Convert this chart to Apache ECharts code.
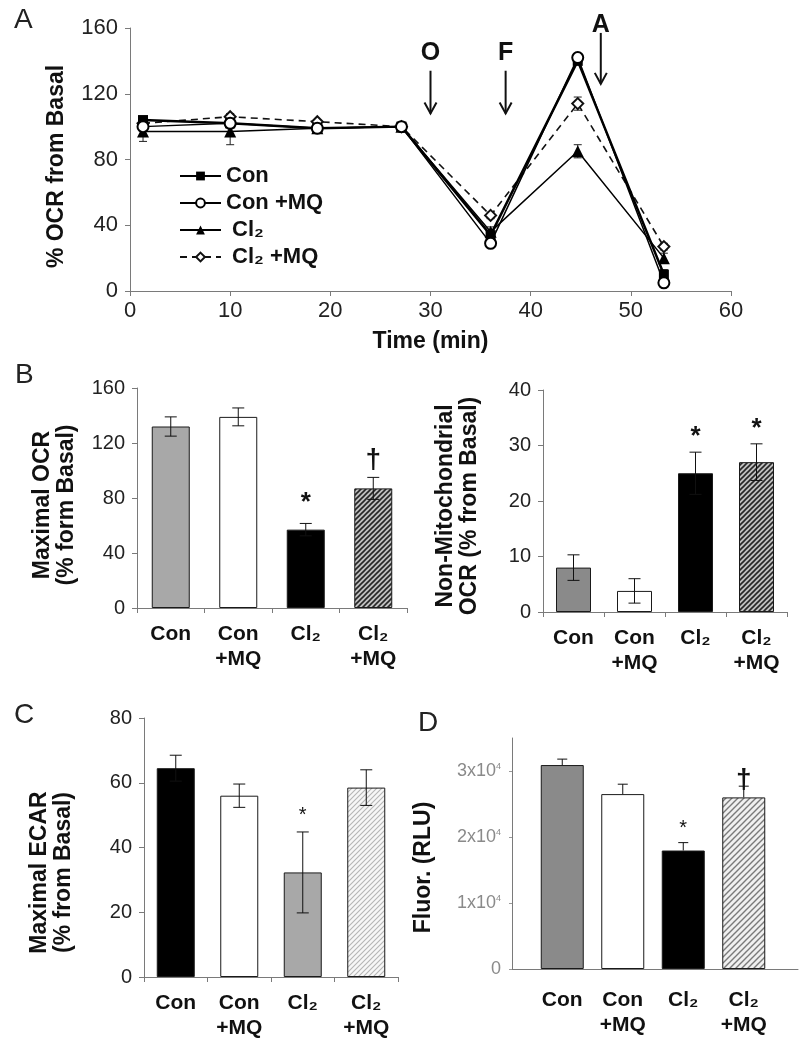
<!DOCTYPE html>
<html><head><meta charset="utf-8">
<script src="https://cdn.jsdelivr.net/npm/echarts@6/dist/echarts.min.js"></script>
<style>html,body{margin:0;padding:0;background:#fff}#c{width:801px;height:1050px}</style>
</head><body><div id="c"></div>
<script>
// ---------- Panel A: % OCR from basal over time ----------
const timeMin = [1.3, 10, 18.7, 27.1, 36, 44.7, 53.3];
const ocrCon      = [104, 102, 99, 100, 34, 140, 10];
const ocrConErr   = [2, 2, 1, 0, 2, 2, 3];
const ocrConMQ    = [100, 102, 99, 100, 29, 142, 5];
const ocrConMQErr = [2, 2, 1, 0, 2, 2, 1];
const ocrCl2      = [97, 97, 99, 100, 36, 85, 20];
const ocrCl2Err   = [6, 8, 1, 0, 3, 4, 3];
const ocrCl2MQ    = [102, 106, 103, 100, 46, 114, 27];
const ocrCl2MQErr = [2, 2, 1, 0, 2, 4, 2];
const seriesNames = ['Con', 'Con +MQ', ' Cl₂', ' Cl₂ +MQ'];
const arrowTimes  = [30, 37.5, 47];
const arrowLabels = ['O', 'F', 'A'];
const arrowFrom   = [134, 134, 157];
const arrowTo     = [108, 108, 126];
const arrowLabelAt = [145, 145, 162];

// ---------- Bar panels ----------
const groups = ['Con', 'Con\n+MQ', 'Cl₂', 'Cl₂\n+MQ'];
const maxOCR      = [132, 139, 57, 87];
const maxOCRErr   = [7, 6.5, 4.5, 8];
const maxOCRSig   = ['', '', '*', '†'];
const nonMito     = [8, 3.8, 25, 27];
const nonMitoErr  = [2.3, 2.2, 3.8, 3.3];
const nonMitoSig  = ['', '', '*', '*'];
const maxECAR     = [64.5, 56, 32.3, 58.5];
const maxECARErr  = [4, 3.6, 12.5, 5.5];
const maxECARSig  = ['', '', '*', ''];
const fluor       = [30900, 26500, 17950, 26000];
const fluorErr    = [900, 1500, 1200, 1700];
const fluorSig    = ['', '', '*', '†'];

const FONT = "'Liberation Sans', Arial, Helvetica, sans-serif";
const AX = '#7a7a7a';

function hatch(bg, fg, size, lw) {
  const c = document.createElement('canvas');
  c.width = size; c.height = size;
  const g = c.getContext('2d');
  g.fillStyle = bg; g.fillRect(0, 0, size, size);
  g.strokeStyle = fg; g.lineWidth = lw;
  g.beginPath();
  g.moveTo(0, size); g.lineTo(size, 0);
  g.moveTo(-size / 2, size / 2); g.lineTo(size / 2, -size / 2);
  g.moveTo(size / 2, size * 1.5); g.lineTo(size * 1.5, size / 2);
  g.stroke();
  return { image: c, repeat: 'repeat' };
}
const hatchDark = hatch('#c0c0c0', '#262626', 5, 1.6);
const hatchMid = hatch('#f0f0f0', '#7a7a7a', 6, 1.4);
const hatchLight = hatch('#f7f7f7', '#b5b5b5', 5, 1.1);

const barColorsB1 = ['#a8a8a8', '#ffffff', '#000000', hatchDark];
const barColorsB2 = ['#8a8a8a', '#ffffff', '#000000', hatchDark];
const barColorsC  = ['#000000', '#ffffff', '#a8a8a8', hatchLight];
const barColorsD  = ['#8a8a8a', '#ffffff', '#000000', hatchMid];

function barSeries(idx, vals, colors, width) {
  return {
    type: 'bar', xAxisIndex: idx, yAxisIndex: idx, barWidth: width, z: 2,
    data: vals.map((v, i) => ({ value: v, itemStyle: { color: colors[i], borderColor: '#1a1a1a', borderWidth: 1 } })),
    silent: true
  };
}

function errSeries(idx, vals, errs, sig, o) {
  return {
    type: 'custom', xAxisIndex: idx, yAxisIndex: idx, z: 5, clip: false, silent: true,
    data: vals.map((v, i) => [i, v, errs[i]]),
    renderItem: (params, api) => {
      const i = api.value(0), v = api.value(1), e = api.value(2);
      const s = sig[params.dataIndex];
      const top = api.coord([i, v + e]);
      const bot = api.coord([i, o.upperOnly ? v : v - e]);
      const cw = o.cap;
      const st = { stroke: '#111', lineWidth: 1 };
      const ch = [
        { type: 'line', shape: { x1: top[0], y1: top[1], x2: bot[0], y2: bot[1] }, style: st },
        { type: 'line', shape: { x1: top[0] - cw, y1: top[1], x2: top[0] + cw, y2: top[1] }, style: st }
      ];
      if (!o.upperOnly) ch.push({ type: 'line', shape: { x1: bot[0] - cw, y1: bot[1], x2: bot[0] + cw, y2: bot[1] }, style: st });
      if (s) {
        const isStar = s === '*';
        ch.push({
          type: 'text', x: top[0], y: top[1] - (isStar ? o.starGap : o.dagGap),
          style: {
            text: s, fill: '#111', align: 'center', verticalAlign: 'bottom',
            font: (isStar ? o.starFont : o.dagFont) + ' ' + FONT
          }
        });
      }
      return { type: 'group', children: ch };
    }
  };
}

function lineErrSeries(vals, errs) {
  return {
    type: 'custom', xAxisIndex: 0, yAxisIndex: 0, z: 1, silent: true,
    data: timeMin.map((t, i) => [t, vals[i], errs[i]]),
    renderItem: (params, api) => {
      const t = api.value(0), v = api.value(1), e = api.value(2);
      if (!e) return null;
      const a = api.coord([t, v + e]), b = api.coord([t, v - e]);
      const st = { stroke: '#222', lineWidth: 1 };
      return { type: 'group', children: [
        { type: 'line', shape: { x1: a[0], y1: a[1], x2: b[0], y2: b[1] }, style: st },
        { type: 'line', shape: { x1: a[0] - 4, y1: a[1], x2: a[0] + 4, y2: a[1] }, style: st },
        { type: 'line', shape: { x1: b[0] - 4, y1: b[1], x2: b[0] + 4, y2: b[1] }, style: st }
      ] };
    }
  };
}

const grids = [
  { left: 130, top: 28, width: 601, height: 263 },   // A
  { left: 137, top: 388, width: 270, height: 220 },  // B left
  { left: 543, top: 390, width: 244, height: 222 },  // B right
  { left: 144, top: 718, width: 254, height: 259 },  // C
  { left: 532, top: 738, width: 242, height: 231 },  // D bars
  { left: 512, top: 738, width: 286, height: 231 }   // D frame
];

const catLbl = { fontFamily: FONT, fontSize: 21, fontWeight: 'bold', color: '#111', lineHeight: 25, interval: 0 };
const nameSt = { fontFamily: FONT, fontSize: 23, fontWeight: 'bold', color: '#111', lineHeight: 24 };

function catX(idx, margin, showTicks) {
  return {
    type: 'category', gridIndex: idx, data: groups,
    axisLine: { show: !!showTicks, lineStyle: { color: AX, width: 1 } },
    axisTick: { show: !!showTicks, length: 5, lineStyle: { color: AX } },
    axisLabel: Object.assign({ margin: margin }, catLbl),
    splitLine: { show: false }
  };
}
function valY(idx, max, interval, name, gap, padding, fs) {
  return {
    type: 'value', gridIndex: idx, min: 0, max: max, interval: interval,
    name: name, nameLocation: 'middle', nameGap: gap, nameTextStyle: Object.assign({}, nameSt, { padding: padding || 0 }),
    axisLine: { show: true, lineStyle: { color: AX, width: 1 } },
    axisTick: { show: true, length: 5, lineStyle: { color: AX } },
    axisLabel: { margin: 12, fontFamily: FONT, fontSize: fs, color: '#222' },
    splitLine: { show: false }
  };
}

const option = {
  animation: false,
  backgroundColor: '#fff',
  textStyle: { fontFamily: FONT },
  title: [
    { text: 'A', left: 9, top: 1 },
    { text: 'B', left: 10, top: 356 },
    { text: 'C', left: 9, top: 696 },
    { text: 'D', left: 413, top: 704 }
  ].map(t => Object.assign(t, { textStyle: { fontFamily: FONT, fontSize: 28, fontWeight: 'normal', color: '#222' } })),
  legend: {
    orient: 'vertical', left: 174, top: 160, itemGap: 5, itemWidth: 41, itemHeight: 11,
    textStyle: { fontFamily: FONT, fontSize: 22, fontWeight: 'bold', color: '#111' },
    data: seriesNames
  },
  grid: grids,
  xAxis: [
    {
      type: 'value', gridIndex: 0, min: 0, max: 60, interval: 10,
      name: 'Time (min)', nameLocation: 'middle', nameGap: 39, nameTextStyle: nameSt,
      axisLine: { lineStyle: { color: AX } }, axisTick: { length: 5, lineStyle: { color: AX } },
      axisLabel: { margin: 9, fontFamily: FONT, fontSize: 22, color: '#222' }, splitLine: { show: false }
    },
    catX(1, 14, true),
    catX(2, 14, true),
    catX(3, 14, true),
    catX(4, 19, false),
    {
      type: 'value', gridIndex: 5, min: 0, max: 1,
      axisLine: { show: true, lineStyle: { color: AX } }, axisTick: { show: false },
      axisLabel: { show: false }, splitLine: { show: false }
    }
  ],
  yAxis: [
    valY(0, 160, 40, '% OCR from Basal', 61, [0, 14, 0, 0], 22),
    valY(1, 160, 40, 'Maximal OCR\n(% form Basal)', 58, [0, 14, 0, 0], 20),
    valY(2, 40, 10, 'Non-Mitochondrial\nOCR (% from Basal)', 61, [0, 10, 0, 0], 20),
    valY(3, 80, 20, 'Maximal ECAR\n(% from Basal)', 68, [0, 50, 0, 0], 20),
    { type: 'value', gridIndex: 4, min: 0, max: 35000, show: false },
    {
      type: 'value', gridIndex: 5, min: 0, max: 35000, interval: 10000,
      name: 'Fluor. (RLU)', nameLocation: 'middle', nameGap: 76, nameTextStyle: Object.assign({}, nameSt, { padding: [0, 28, 0, 0] }),
      axisLine: { show: true, lineStyle: { color: AX } },
      axisTick: { show: true, length: 3, lineStyle: { color: '#999' } },
      axisLabel: {
        margin: 11, showMaxLabel: false,
        formatter: v => v === 0 ? '{n|0}' : (v % 10000 === 0 ? '{n|' + (v / 10000) + 'x10}{s|4}' : ''),
        rich: {
          n: { fontFamily: FONT, fontSize: 18, color: '#8a8a8a' },
          s: { fontFamily: FONT, fontSize: 9, color: '#8a8a8a', verticalAlign: 'top', padding: [0, 0, 9, 0] }
        }
      },
      splitLine: { show: false }
    }
  ],
  series: [
    lineErrSeries(ocrCon, ocrConErr),
    lineErrSeries(ocrConMQ, ocrConMQErr),
    lineErrSeries(ocrCl2, ocrCl2Err),
    lineErrSeries(ocrCl2MQ, ocrCl2MQErr),
    {
      type: 'line', name: seriesNames[3], xAxisIndex: 0, yAxisIndex: 0, z: 3,
      data: timeMin.map((t, i) => [t, ocrCl2MQ[i]]),
      symbol: 'emptyDiamond', symbolSize: 11, itemStyle: { color: '#111', borderWidth: 1.5 },
      lineStyle: { color: '#111', width: 1.6, type: [7, 5] }
    },
    {
      type: 'line', name: seriesNames[2], xAxisIndex: 0, yAxisIndex: 0, z: 3,
      data: timeMin.map((t, i) => [t, ocrCl2[i]]),
      symbol: 'triangle', symbolSize: 12, itemStyle: { color: '#000' },
      lineStyle: { color: '#000', width: 1.5 }
    },
    {
      type: 'line', name: seriesNames[0], xAxisIndex: 0, yAxisIndex: 0, z: 4,
      data: timeMin.map((t, i) => [t, ocrCon[i]]),
      symbol: 'rect', symbolSize: 10, itemStyle: { color: '#000' },
      lineStyle: { color: '#000', width: 2.5 }
    },
    {
      type: 'line', name: seriesNames[1], xAxisIndex: 0, yAxisIndex: 0, z: 5,
      data: timeMin.map((t, i) => [t, ocrConMQ[i]]),
      symbol: 'emptyCircle', symbolSize: 11, itemStyle: { color: '#000', borderWidth: 1.5 },
      lineStyle: { color: '#000', width: 1.5 }
    },
    {
      type: 'custom', xAxisIndex: 0, yAxisIndex: 0, clip: false, silent: true, z: 6,
      data: arrowTimes.map((t, i) => [t, arrowFrom[i], arrowTo[i], arrowLabelAt[i]]),
      renderItem: (params, api) => {
        const a = api.coord([api.value(0), api.value(1)]);
        const b = api.coord([api.value(0), api.value(2)]);
        const l = api.coord([api.value(0), api.value(3)]);
        const st = { stroke: '#111', lineWidth: 2, fill: null };
        return { type: 'group', children: [
          { type: 'line', shape: { x1: a[0], y1: a[1], x2: b[0], y2: b[1] }, style: st },
          { type: 'polyline', shape: { points: [[b[0] - 6, b[1] - 11], [b[0], b[1]], [b[0] + 6, b[1] - 11]] }, style: st },
          { type: 'text', x: l[0], y: l[1], style: { text: arrowLabels[params.dataIndex], align: 'center', verticalAlign: 'middle', fill: '#111', font: 'bold 25px ' + FONT } }
        ] };
      }
    },
    barSeries(1, maxOCR, barColorsB1, 38),
    errSeries(1, maxOCR, maxOCRErr, maxOCRSig, { cap: 6, starGap: 8, dagGap: 3, starFont: 'bold 26px', dagFont: 'bold 28px' }),
    barSeries(2, nonMito, barColorsB2, 35),
    errSeries(2, nonMito, nonMitoErr, nonMitoSig, { cap: 6, starGap: 2, dagGap: 3, starFont: 'bold 26px', dagFont: 'bold 28px' }),
    barSeries(3, maxECAR, barColorsC, 38),
    errSeries(3, maxECAR, maxECARErr, maxECARSig, { cap: 6, starGap: 6, dagGap: 3, starFont: '20px', dagFont: 'bold 28px' }),
    barSeries(4, fluor, barColorsD, 43),
    errSeries(4, fluor, fluorErr, fluorSig, { cap: 5, upperOnly: true, starGap: 4, dagGap: -8, starFont: '20px', dagFont: 'bold 28px' })
  ]
};

const chart = echarts.init(document.getElementById('c'), null, { renderer: 'canvas', width: 801, height: 1050 });
chart.setOption(option);
</script>
</body></html>
